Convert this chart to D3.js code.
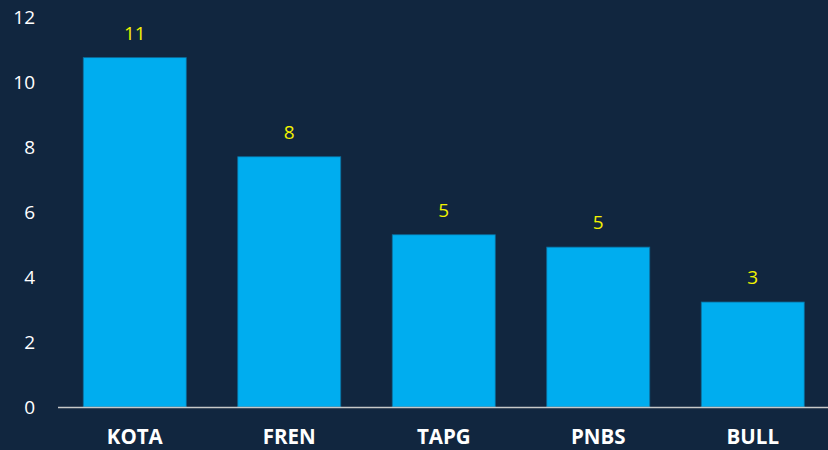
<!DOCTYPE html>
<html><head><meta charset="utf-8">
<script src="https://cdn.jsdelivr.net/npm/d3@7"></script>
<style>html,body{margin:0;padding:0;background:#11263f;}svg{display:block;}</style>
</head><body>
<svg id="c" width="828" height="450"></svg>
<script>
const categories = ["KOTA","FREN","TAPG","PNBS","BULL"];
const values = [10.75, 7.7, 5.3, 4.92, 3.23];
const yTicks = [0,2,4,6,8,10,12];

const svg = d3.select("#c");
svg.append("rect").attr("width",828).attr("height",450).attr("fill","#11263f");
const x = d3.scaleBand().domain(categories).range([57.5,830]).paddingInner(1/3).paddingOuter(1/6);
const y = d3.scaleLinear().domain([0,12]).range([407,17]);
const font = "'Open Sans', sans-serif";

const yAxis = svg.append("g").attr("transform","translate(35,0)")
  .call(d3.axisLeft(y).tickValues(yTicks).tickSize(0).tickPadding(0));
yAxis.select(".domain").remove();
yAxis.selectAll("text").attr("fill","#ffffff").style("font-family",font).style("font-size","19px");

svg.selectAll("rect.bar").data(categories).join("rect").attr("class","bar")
  .attr("x",d=>x(d)).attr("width",x.bandwidth())
  .attr("y",(d,i)=>y(values[i])).attr("height",(d,i)=>y(0)-y(values[i]))
  .attr("fill","#00adef").attr("stroke","#0b6d9c").attr("stroke-width",0.8);

svg.append("line").attr("x1",58).attr("x2",828).attr("y1",y(0)+0.5).attr("y2",y(0)+0.5)
  .attr("stroke","#c8c8c8").attr("stroke-width",1.5);

const xAxis = svg.append("g").attr("transform","translate(0,"+y(0)+")")
  .call(d3.axisBottom(x).tickSize(0).tickPadding(22));
xAxis.select(".domain").remove();
xAxis.selectAll("text").attr("fill","#ffffff").style("font-family",font).style("font-size","20.5px").style("font-weight","bold");

svg.selectAll("text.val").data(categories).join("text").attr("class","val")
  .attr("x",d=>x(d)+x.bandwidth()/2).attr("y",(d,i)=>y(values[i])-18)
  .attr("text-anchor","middle").attr("fill","#f2f200")
  .style("font-family",font).style("font-size","19px")
  .text((d,i)=>Math.round(values[i]));
</script>
</body></html>
